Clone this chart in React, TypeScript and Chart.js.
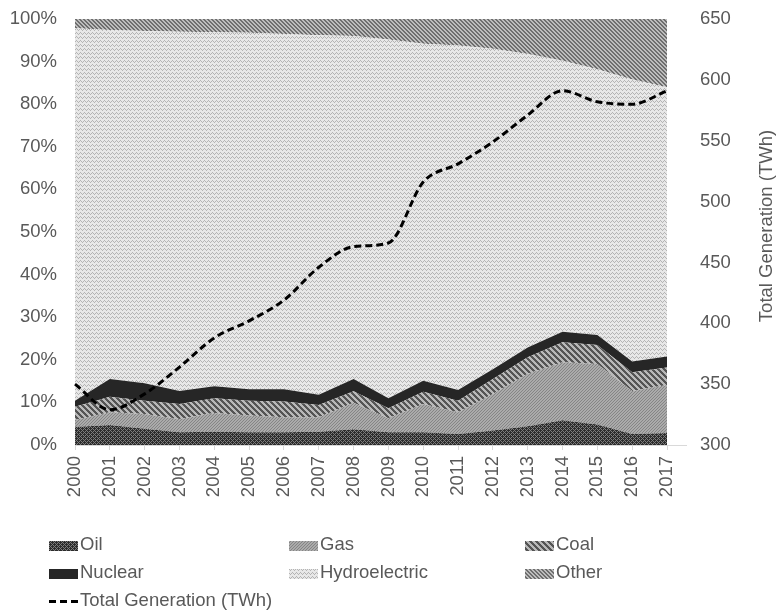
import { useEffect, useRef } from "react";
import { Chart, registerables } from "chart.js";

Chart.register(...registerables);

const years = ["2000", "2001", "2002", "2003", "2004", "2005", "2006", "2007", "2008", "2009", "2010", "2011", "2012", "2013", "2014", "2015", "2016", "2017"];

// Share of generation (%)
const oil = [4.2, 4.7, 3.8, 3.0, 3.1, 3.0, 3.0, 3.1, 3.7, 3.0, 3.0, 2.6, 3.4, 4.4, 5.8, 4.8, 2.6, 2.8];
const gas = [1.7, 3.0, 3.5, 3.1, 4.4, 3.9, 3.5, 3.4, 6.2, 3.3, 6.6, 5.1, 8.6, 12.3, 13.6, 14.2, 10.1, 11.3];
const coal = [3.1, 3.6, 3.1, 3.5, 3.5, 3.5, 3.7, 2.9, 2.7, 2.3, 2.9, 2.7, 3.5, 3.9, 4.7, 4.5, 4.4, 4.1];
const nuclear = [1.4, 4.2, 4.1, 3.1, 2.8, 2.7, 2.9, 2.4, 2.9, 2.4, 2.6, 2.5, 2.3, 2.3, 2.5, 2.3, 2.5, 2.6];
const hydroelectric = [87.4, 81.9, 82.7, 84.3, 83.1, 83.7, 83.4, 84.4, 80.5, 84.2, 79.1, 80.9, 75.2, 68.9, 63.6, 62.4, 66.2, 63.2];
const other = [2.2, 2.6, 2.8, 3.0, 3.1, 3.2, 3.5, 3.8, 4.0, 4.8, 5.8, 6.2, 7.0, 8.2, 9.8, 11.8, 14.2, 16.0];

// Total generation (TWh), right axis
const totalGeneration = [350, 329, 342, 364, 388, 402, 419, 446, 463, 466, 516, 531, 549, 571, 591, 582, 580, 591];

const seriesNames = ["Oil", "Gas", "Coal", "Nuclear", "Hydroelectric", "Other"];
const lineName = "Total Generation (TWh)";
const rightAxisTitle = "Total Generation (TWh)";

const FONT = "'Liberation Sans', Arial, sans-serif";
const FONT_SIZE = 18.5;
const TEXT = "#595959";

const TARGET = { left: 75, right: 667, top: 19, bottom: 445 };

type Pred = (x: number, y: number) => boolean;

function makePattern(ctx: CanvasRenderingContext2D, w: number, h: number, bg: string, fg: string, pred: Pred) {
  const c = document.createElement("canvas");
  c.width = w;
  c.height = h;
  const t = c.getContext("2d")!;
  t.fillStyle = bg;
  t.fillRect(0, 0, w, h);
  t.fillStyle = fg;
  for (let x = 0; x < w; x++) {
    for (let y = 0; y < h; y++) {
      if (pred(x, y)) t.fillRect(x, y, 1, 1);
    }
  }
  return ctx.createPattern(c, "repeat")!;
}

export default function App() {
  const ref = useRef<HTMLCanvasElement | null>(null);

  useEffect(() => {
    const canvas = ref.current!;
    const ctx = canvas.getContext("2d")!;

    const oilPat = makePattern(ctx, 4, 4, "#2c2c2c", "#7c7c7c", (x, y) => (x + y) % 4 === 0 || (x - y + 4) % 4 === 0);
    const gasPat = makePattern(ctx, 3, 3, "#ababab", "#858585", (x, y) => (x + y) % 3 === 0);
    const coalPat = makePattern(ctx, 6, 6, "#b8b8b8", "#555555", (x, y) => (x - y + 6) % 6 < 3);
    const zig = [0, 1, 2, 1];
    const hydroPat = makePattern(ctx, 4, 4, "#e8e8e8", "#b4b4b4", (x, y) => y === zig[x]);
    const otherPat = makePattern(ctx, 4, 4, "#bdbdbd", "#6e6e6e", (x, y) => (x - y + 4) % 4 < 2);
    const nuclearFill = "#262626";

    const fills = [oilPat, gasPat, coalPat, nuclearFill, hydroPat, otherPat];
    const values = [oil, gas, coal, nuclear, hydroelectric, other];

    const areaSets = seriesNames.map((name, i) => ({
      type: "line" as const,
      label: name,
      data: values[i],
      backgroundColor: fills[i] as any,
      borderColor: "rgba(0,0,0,0)",
      borderWidth: 0,
      pointRadius: 0,
      pointHoverRadius: 0,
      tension: 0,
      fill: i === 0 ? "origin" : "-1",
      yAxisID: "y",
      order: 1,
    }));

    const lineSet = {
      type: "line" as const,
      label: lineName,
      data: totalGeneration,
      borderColor: "#000000",
      backgroundColor: "#000000",
      borderWidth: 3,
      borderDash: [7, 4],
      pointRadius: 0,
      pointHoverRadius: 0,
      cubicInterpolationMode: "monotone" as const,
      fill: false,
      yAxisID: "y1",
      order: 0,
    };

    const font = { family: FONT, size: FONT_SIZE };

    const customPlugin = {
      id: "customLegendAndTitle",
      afterDraw(chart: any) {
        const c = chart.ctx as CanvasRenderingContext2D;
        const area = chart.chartArea;
        c.save();
        // x-axis line extension past the last category
        c.strokeStyle = "#d9d9d9";
        c.lineWidth = 1;
        c.beginPath();
        c.moveTo(area.right, area.bottom + 0.5);
        c.lineTo(area.right + 20, area.bottom + 0.5);
        c.stroke();

        // legend
        c.font = `${FONT_SIZE}px ${FONT}`;
        c.fillStyle = TEXT;
        c.textBaseline = "middle";
        c.textAlign = "left";
        const colX = [49, 289, 525];
        const rowY = [545, 573, 601];
        chart.data.datasets.forEach((ds: any, i: number) => {
          const col = i % 3;
          const row = Math.floor(i / 3);
          const x = colX[col];
          const y = rowY[row];
          if (ds.yAxisID === "y1") {
            c.save();
            c.strokeStyle = "#000000";
            c.lineWidth = 3;
            c.setLineDash([7, 4]);
            c.beginPath();
            c.moveTo(x, y + 0.5);
            c.lineTo(x + 29, y + 0.5);
            c.stroke();
            c.restore();
          } else {
            c.fillStyle = ds.backgroundColor;
            c.fillRect(x, y - 4, 29, 10);
          }
          c.fillStyle = TEXT;
          c.fillText(ds.label, x + 31, y);
        });

        // right axis title
        c.translate(767, 226);
        c.rotate(-Math.PI / 2);
        c.textAlign = "center";
        c.textBaseline = "middle";
        c.fillStyle = TEXT;
        c.fillText(rightAxisTitle, 0, 0);
        c.restore();
      },
    };

    const chart = new Chart(canvas, {
      type: "line",
      data: {
        labels: years,
        datasets: [...areaSets, lineSet] as any,
      },
      options: {
        animation: false,
        responsive: false,
        devicePixelRatio: 1,
        layout: { padding: { top: TARGET.top, left: 0, right: 0, bottom: 0 } },
        plugins: {
          legend: { display: false },
          tooltip: { enabled: false },
        },
        scales: {
          x: {
            type: "category",
            offset: false,
            grid: {
              display: true,
              drawOnChartArea: false,
              drawTicks: true,
              tickLength: 5,
              color: "#d9d9d9",
            },
            border: { display: true, color: "#d9d9d9", width: 1 },
            ticks: {
              font,
              color: TEXT,
              minRotation: 90,
              maxRotation: 90,
              autoSkip: false,
              padding: 6,
            },
            afterFit: (s: any) => {
              s.height = 614 - TARGET.bottom;
            },
          },
          y: {
            position: "left",
            stacked: true,
            min: 0,
            max: 100,
            grid: { display: false, drawTicks: true, tickLength: 12 },
            border: { display: false },
            ticks: {
              stepSize: 10,
              font,
              color: TEXT,
              padding: 6,
              callback: (v: any) => `${v}%`,
            },
            afterFit: (s: any) => {
              s.width = TARGET.left;
            },
          },
          y1: {
            position: "right",
            min: 300,
            max: 650,
            grid: { display: false, drawTicks: true, tickLength: 26 },
            border: { display: false },
            ticks: {
              stepSize: 50,
              font,
              color: TEXT,
              padding: 7,
            },
            afterFit: (s: any) => {
              s.width = 777 - TARGET.right;
            },
          },
        },
      },
      plugins: [customPlugin],
    });

    return () => chart.destroy();
  }, []);

  return (
    <div style={{ position: "fixed", left: 0, top: 0, width: 777, height: 614, background: "#ffffff" }}>
      <canvas ref={ref} width={777} height={614} style={{ display: "block", width: 777, height: 614 }} />
    </div>
  );
}
